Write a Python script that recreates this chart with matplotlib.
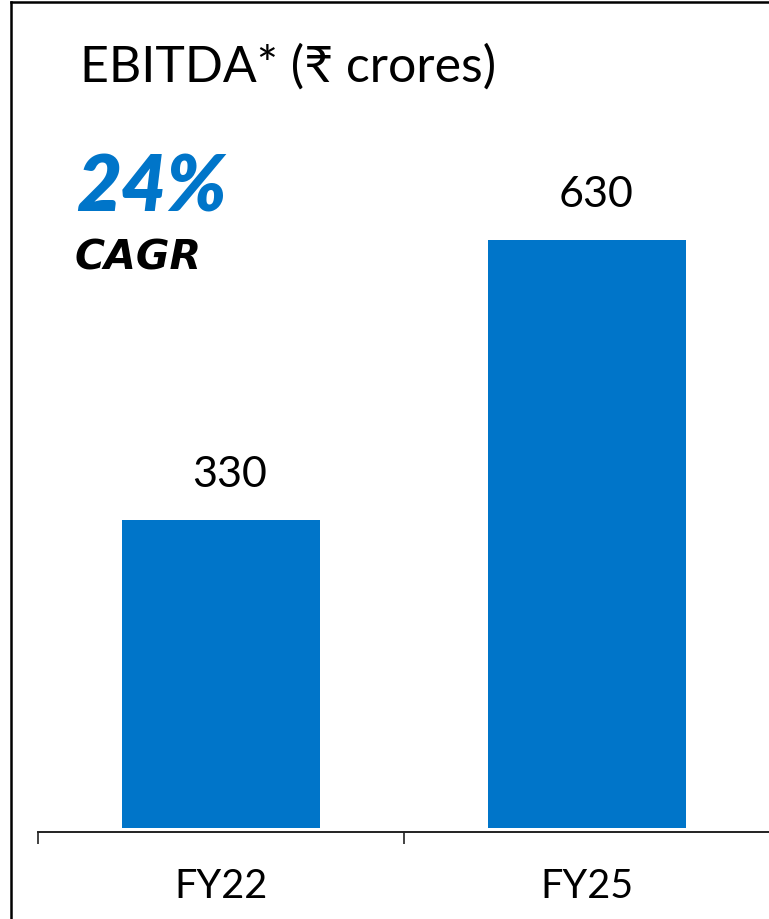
import matplotlib
matplotlib.use("Agg")
import matplotlib.pyplot as plt
from matplotlib.lines import Line2D

plt.rcParams['font.family'] = ['Lato', 'DejaVu Sans']

categories = ["FY22", "FY25"]
values = [330, 630]
title = "EBITDA* (\u20b9 crores)"
cagr_value = "24%"
cagr_label = "CAGR"

BLUE = "#0075C9"
W, H = 769, 920
fig = plt.figure(figsize=(W / 100, H / 100), dpi=100)

def fx(px):
    return px / W

def fy(py):
    return 1 - py / H

ax_left, ax_right = 37.5, 770.5
ax_top, ax_bot = 100, 833
ax = fig.add_axes([fx(ax_left), fy(ax_bot), (ax_right - ax_left) / W, (ax_bot - ax_top) / H])

scale = 0.933  # px per unit
zero_px = 829
ax.set_ylim(-(ax_bot - zero_px) / scale, (zero_px - ax_top) / scale)
ax.set_xlim(-0.5, len(categories) - 0.5)

x = list(range(len(categories)))
ax.bar(x, values, width=0.54, color=BLUE)
for xi, v in zip(x, values):
    ax.annotate(str(v), (xi, v), xytext=(8.5, 34), textcoords='offset pixels',
                ha='center', va='baseline', fontsize=31, color='black')

for s in ['top', 'right', 'left']:
    ax.spines[s].set_visible(False)
ax.spines['bottom'].set_color('#222222')
ax.spines['bottom'].set_linewidth(1.4)
ax.set_yticks([])
ax.set_xticks([i - 0.5 for i in range(len(categories) + 1)])
ax.set_xticklabels([])
ax.tick_params(axis='x', which='major', length=8.6, width=1.2, color='#222222', direction='out')
ax.set_xticks(x, minor=True)
ax.set_xticklabels(categories, minor=True)
ax.tick_params(axis='x', which='minor', length=0, pad=25, labelsize=28.5)

fig.text(fx(80), fy(82), title, fontsize=36, color='black', ha='left', va='baseline')
fig.text(fx(76), fy(212), cagr_value, fontsize=56, color=BLUE, fontweight='heavy',
         fontstyle='italic', ha='left', va='baseline')
fig.text(fx(75), fy(270), cagr_label, fontsize=29.5, color='black', fontweight='bold',
         fontstyle='oblique', family=['DejaVu Sans'], ha='left', va='baseline')

# frame
fig.add_artist(Line2D([fx(11), fx(11)], [fy(3), 0], transform=fig.transFigure, color='black', lw=1.8))
fig.add_artist(Line2D([fx(11), 1], [fy(3), fy(3)], transform=fig.transFigure, color='black', lw=1.8))

fig.savefig("out.png", dpi=100)
